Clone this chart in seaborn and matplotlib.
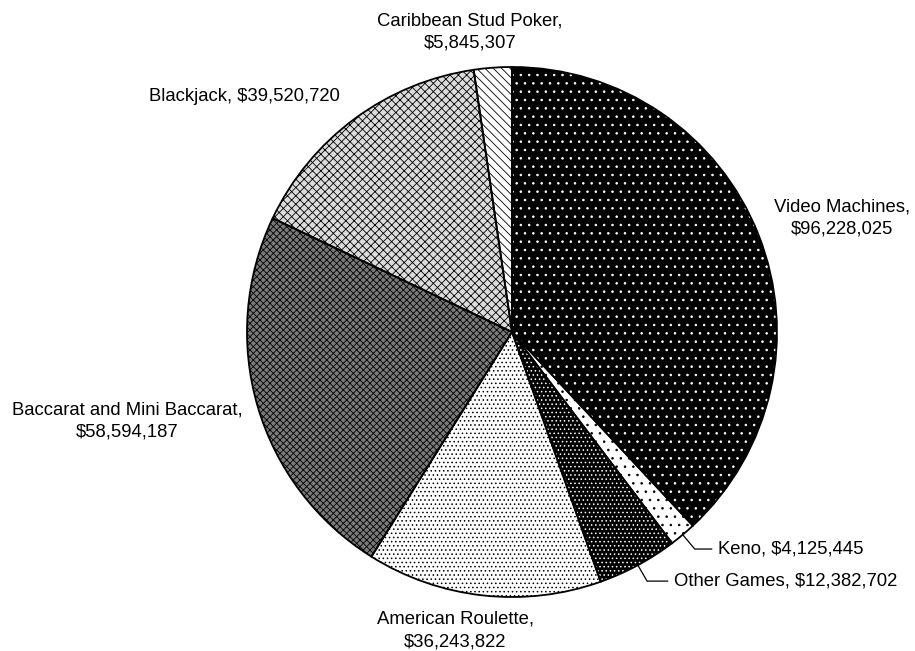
import numpy as np
import matplotlib as mpl
import matplotlib.pyplot as plt
import seaborn as sns

# casino win by game type
games = ['Video Machines', 'Keno', 'Other Games', 'American Roulette',
         'Baccarat and Mini Baccarat', 'Blackjack', 'Caribbean Stud Poker']
amounts = [96228025, 4125445, 12382702, 36243822, 58594187, 39520720, 5845307]

# pattern per slice: face colour, hatch colour, hatch
faces = ['black', 'white', 'black', 'white', '#7a7a7a', '#dcdcdc', 'white']
hatch_cols = ['white', 'black', 'white', 'black', 'black', 'black', 'black']
hatches = ['..', '..', '....', '....', 'xxxxx', 'xxxx', '\\\\\\\\']

sns.set_theme(style='white')
plt.rcParams['font.family'] = ['Liberation Sans', 'DejaVu Sans']
plt.rcParams['text.color'] = 'black'
mpl.rcParams['hatch.linewidth'] = 0.6

fig = plt.figure(figsize=(9.15, 6.51), dpi=100)
ax = fig.add_axes([0, 0, 1, 1])

# fill + hatch pass
wedges, _ = ax.pie(amounts, startangle=90, counterclock=False, radius=1,
                   wedgeprops=dict(linewidth=0))
for w, fc, hc, h in zip(wedges, faces, hatch_cols, hatches):
    w.set_facecolor(fc)
    w.set_edgecolor(hc)
    w.set_hatch(h)

# outline pass
ax.pie(amounts, startangle=90, counterclock=False, radius=1,
       wedgeprops=dict(facecolor='none', edgecolor='black', linewidth=1.3))

ax.set_aspect('auto')
ax.set_xlim(-512 / 265, (915 - 512) / 265)
ax.set_ylim(-(651 - 332) / 265, 332 / 265)
ax.axis('off')


def lab(i):
    return f'{games[i]}, ${amounts[i]:,}'


fs = 13.3
ls = 1.45
ax.text(1.245, 0.430, f'{games[0]},\n${amounts[0]:,}', ha='center', va='center',
        fontsize=fs, linespacing=ls)
ax.text(-0.215, -1.125, f'{games[3]},\n${amounts[3]:,}', ha='center', va='center',
        fontsize=fs, linespacing=ls)
ax.text(-1.453, -0.336, f'{games[4]},\n${amounts[4]:,}', ha='center', va='center',
        fontsize=fs, linespacing=ls)
ax.text(-1.008, 0.887, lab(5), ha='center', va='center', fontsize=fs)
ax.text(-0.158, 1.132, f'{games[6]},\n${amounts[6]:,}', ha='center', va='center',
        fontsize=fs, linespacing=ls)

# small slices with leader lines
for i, pos, angB in [(1, (0.777, -0.819), -50), (2, (0.611, -0.940), -60)]:
    w = wedges[i]
    mid = np.deg2rad((w.theta1 + w.theta2) / 2)
    ax.annotate(lab(i), xy=(np.cos(mid), np.sin(mid)), xytext=pos,
                ha='left', va='center', fontsize=fs,
                arrowprops=dict(arrowstyle='-', color='black', lw=0.9,
                                relpos=(0, 0.5), shrinkA=2, shrinkB=0,
                                connectionstyle=f'angle,angleA=0,angleB={angB},rad=0'))

fig.savefig('out.png', dpi=100)
